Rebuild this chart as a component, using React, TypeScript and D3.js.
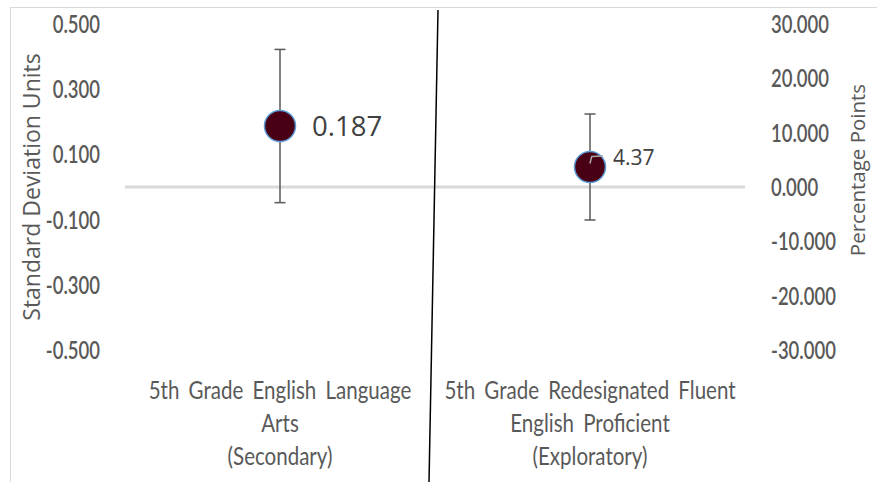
import React, { useRef, useEffect } from 'react';
import * as d3 from 'd3';

const categories = [
  ['5th Grade English Language', 'Arts', '(Secondary)'],
  ['5th Grade Redesignated Fluent', 'English Proficient', '(Exploratory)'],
];
const axisSide = ['left', 'right'];
const pointValues = [0.187, 3.68];
const errorValues = [0.235, 9.75];
const pointLabels = ['0.187', '4.37'];
const leftTicks = [0.5, 0.3, 0.1, -0.1, -0.3, -0.5];
const rightTicks = [30, 20, 10, 0, -10, -20, -30];

const App: React.FC = () => {
  const svgRef = useRef<SVGSVGElement>(null);
  const width = 877;
  const height = 482;

  useEffect(() => {
    if (!svgRef.current) return;
    const svg = d3.select(svgRef.current);
    svg.selectAll('*').remove();

    const margin = { top: 24, right: 132, bottom: 132, left: 125 };
    const innerWidth = width - margin.left - margin.right;
    const tickFont = "Lato, 'Open Sans', sans-serif";
    const titleFont = "'Open Sans', 'Noto Sans', sans-serif";
    const textColor = '#595959';
    const squeeze = 0.74;
    const fmt = (d: number) => d.toFixed(3);

    const xScale = d3
      .scaleBand<number>()
      .domain(categories.map((_, i) => i))
      .range([margin.left, margin.left + innerWidth]);

    const yLeft = d3
      .scaleLinear()
      .domain([-0.5, 0.5])
      .range([height - margin.bottom, margin.top]);

    const yRight = d3
      .scaleLinear()
      .domain([-30, 30])
      .range([height - margin.bottom, margin.top]);

    // chart border (only top/left visible)
    svg.append('line')
      .attr('x1', 10).attr('x2', width).attr('y1', 7.5).attr('y2', 7.5)
      .attr('stroke', '#d9d9d9').attr('stroke-width', 1);
    svg.append('line')
      .attr('x1', 10.5).attr('x2', 10.5).attr('y1', 7).attr('y2', height)
      .attr('stroke', '#d9d9d9').attr('stroke-width', 1);

    // zero line
    svg.append('line')
      .attr('x1', margin.left)
      .attr('x2', margin.left + innerWidth)
      .attr('y1', yLeft(0))
      .attr('y2', yLeft(0))
      .attr('stroke', '#d9d9d9')
      .attr('stroke-width', 3);

    // left ticks
    svg.append('g')
      .selectAll('text')
      .data(leftTicks)
      .enter()
      .append('text')
      .attr('transform', (d) => `translate(100,${yLeft(d)}) scale(${squeeze},1)`)
      .attr('dy', '0.36em')
      .attr('text-anchor', 'end')
      .attr('font-family', tickFont)
      .attr('font-size', 25)
      .attr('font-weight', 600)
      .attr('fill', textColor)
      .text((d) => fmt(d));

    // right ticks
    svg.append('g')
      .selectAll('text')
      .data(rightTicks)
      .enter()
      .append('text')
      .attr('transform', (d) => `translate(771,${yRight(d)}) scale(${squeeze},1)`)
      .attr('dy', '0.36em')
      .attr('text-anchor', 'start')
      .attr('font-family', tickFont)
      .attr('font-size', 25)
      .attr('font-weight', 600)
      .attr('fill', textColor)
      .text((d) => fmt(d));

    // axis titles
    svg.append('text')
      .attr('transform', `translate(32,187) rotate(-90)`)
      .attr('dy', '0.35em')
      .attr('text-anchor', 'middle')
      .attr('font-family', titleFont)
      .attr('font-size', 23)
      .attr('fill', textColor)
      .text('Standard Deviation Units');
    svg.append('text')
      .attr('transform', `translate(858,170) rotate(-90)`)
      .attr('dy', '0.35em')
      .attr('text-anchor', 'middle')
      .attr('font-family', titleFont)
      .attr('font-size', 20.5)
      .attr('fill', textColor)
      .text('Percentage Points');

    // category labels
    categories.forEach((lines, i) => {
      const cx = (xScale(i) || 0) + xScale.bandwidth() / 2;
      lines.forEach((line, j) => {
        svg.append('text')
          .attr('transform', `translate(${cx},${399 + j * 33}) scale(0.79,1)`)
          .attr('text-anchor', 'middle')
          .attr('font-family', tickFont)
          .attr('font-size', 26)
          .attr('word-spacing', 5)
          .attr('fill', textColor)
          .text(line);
      });
    });

    // points + error bars
    pointValues.forEach((v, i) => {
      const yS = axisSide[i] === 'left' ? yLeft : yRight;
      const cx = (xScale(i) || 0) + xScale.bandwidth() / 2;
      const e = errorValues[i];
      const g = svg.append('g');
      g.append('line')
        .attr('x1', cx).attr('x2', cx)
        .attr('y1', yS(v + e)).attr('y2', yS(v - e))
        .attr('stroke', '#595959').attr('stroke-width', 1.5);
      [v + e, v - e].forEach((w) => {
        g.append('line')
          .attr('x1', cx - 5.5).attr('x2', cx + 5.5)
          .attr('y1', yS(w)).attr('y2', yS(w))
          .attr('stroke', '#595959').attr('stroke-width', 1.5);
      });
      g.append('circle')
        .attr('cx', cx)
        .attr('cy', yS(v))
        .attr('r', 15.5)
        .attr('fill', '#4a0014')
        .attr('stroke', '#5b9bd5')
        .attr('stroke-width', 1.5);

      if (i === 0) {
        g.append('text')
          .attr('x', cx + 32)
          .attr('y', yS(v))
          .attr('dy', '0.35em')
          .attr('font-family', titleFont)
          .attr('font-size', 27.5)
          .attr('fill', '#404040')
          .text(pointLabels[i]);
      } else {
        const py = yS(v);
        g.append('path')
          .attr('d', `M${cx},${py - 3.5} L${cx + 1.7},${py - 10.5} L${cx + 13},${py - 11}`)
          .attr('fill', 'none')
          .attr('stroke', '#a6a6a6')
          .attr('stroke-width', 1.5);
        g.append('text')
          .attr('x', cx + 23)
          .attr('y', py - 9.5)
          .attr('dy', '0.35em')
          .attr('font-family', titleFont)
          .attr('font-size', 21)
          .attr('fill', '#404040')
          .text(pointLabels[i]);
      }
    });

    // divider line between categories
    const bx = (xScale(1) || 0) + 3;
    svg.append('line')
      .attr('x1', bx)
      .attr('y1', 10)
      .attr('x2', bx - 9)
      .attr('y2', height)
      .attr('stroke', '#000')
      .attr('stroke-width', 1.5);
  }, []);

  return (
    <svg
      ref={svgRef}
      width={width}
      height={height}
      style={{ position: 'absolute', left: 0, top: 0, background: '#fff' }}
    />
  );
};

export default App;
